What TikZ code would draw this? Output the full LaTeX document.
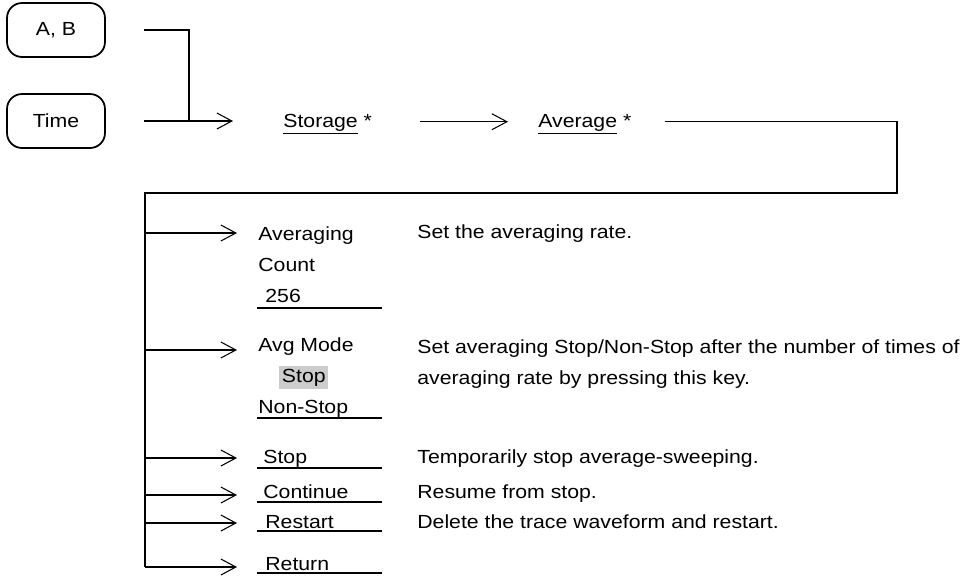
\documentclass[tikz,border=0pt]{standalone}
\usepackage{fontspec}
\setmainfont{Liberation Sans}[FakeStretch=1.12]
\usetikzlibrary{arrows.meta}

\begin{document}
\begin{tikzpicture}[
        x=0.02cm, y=-0.02cm,
        font=\fontsize{10.8}{17.5}\selectfont,
        keybox/.style={draw, line width=1pt, rounded corners=0.3cm, minimum width=1.96cm, minimum height=1.08cm},
        wire/.style={line width=0.6pt},
        arrow/.style={wire, -{Straight Barb[length=0.3cm, width=0.32cm]}},
        softkey/.style={anchor=base west, inner sep=0pt, align=left},
        topkey/.style={softkey, text height=9pt, text depth=3pt},
        note/.style={anchor=base west, inner sep=0pt, align=left}
    ]
    \useasboundingbox (0,0) rectangle (963,583);

    % ==========================================
    % PANEL KEYS -> Storage -> Average
    % ==========================================
    \node[keybox] (keyAB) at (56,30) {A, B};
    \node[keybox] (keyTime) at (56,121) {Time};

    \node[topkey] (storage) at (283,127) {\underline{Storage} *};
    \node[topkey] (average) at (538,127) {\underline{Average} *};

    \coordinate (join) at (189,121);
    \draw[wire, shorten <=0.76cm] (keyAB.east) -| (join);
    \draw[arrow, shorten <=0.76cm, shorten >=1.0cm] (keyTime.east) -- (keyTime.east -| storage.west);
    \draw[arrow, shorten <=0.96cm, shorten >=0.6cm] (storage.east) -- (average.west);

    % ==========================================
    % AVERAGE MENU (trunk + soft keys)
    % ==========================================
    \coordinate (rc) at (897,193);
    \coordinate (tc) at (145,193);
    \coordinate (b1) at (145,233);
    \coordinate (b2) at (145,350);
    \coordinate (b3) at (145,458);
    \coordinate (b4) at (145,495);
    \coordinate (b5) at (145,523);
    \coordinate (b6) at (145,567);
    \draw[wire, shorten <=0.66cm] (average.east) -| (rc) -- (tc) -- (b6);

    % multi-line keys sit on the baseline of their last line
    \node[softkey] (mCount) at (258,302) {Averaging\\Count\\\hspace{4pt}256};
    \node[softkey] (mMode) at (258,413) {Avg Mode\\\hspace{0.42cm}{\fboxsep=1.5pt\colorbox{black!20}{Stop}}\\Non-Stop};
    \node[softkey] (mStop) at (263,463) {Stop};
    \node[softkey] (mCont) at (263,498) {Continue};
    \node[softkey] (mRestart) at (265,528) {Restart};
    \node[softkey] (mReturn) at (265,570) {Return};

    \foreach \y in {308,418,468,502,531,573}
        \draw[wire] (257,\y) -- (382,\y);

    \foreach \b/\n/\s in {b1/mCount/21, b2/mMode/21, b3/mStop/26, b4/mCont/26, b5/mRestart/28, b6/mReturn/28}
        \draw[arrow, shorten >=\s*0.02cm] (\b) -- (\b -| \n.west);

    % descriptions
    \node[note] (dCount) at (417,238) {Set the averaging rate.};
    \node[note] (dMode) at (417,384) {Set averaging Stop/Non-Stop after the number of times of\\averaging rate by pressing this key.};
    \node[note] (dStop) at (417,463) {Temporarily stop average-sweeping.};
    \node[note] (dCont) at (417,498) {Resume from stop.};
    \node[note] (dRestart) at (417,528) {Delete the trace waveform and restart.};

\end{tikzpicture}
\end{document}
